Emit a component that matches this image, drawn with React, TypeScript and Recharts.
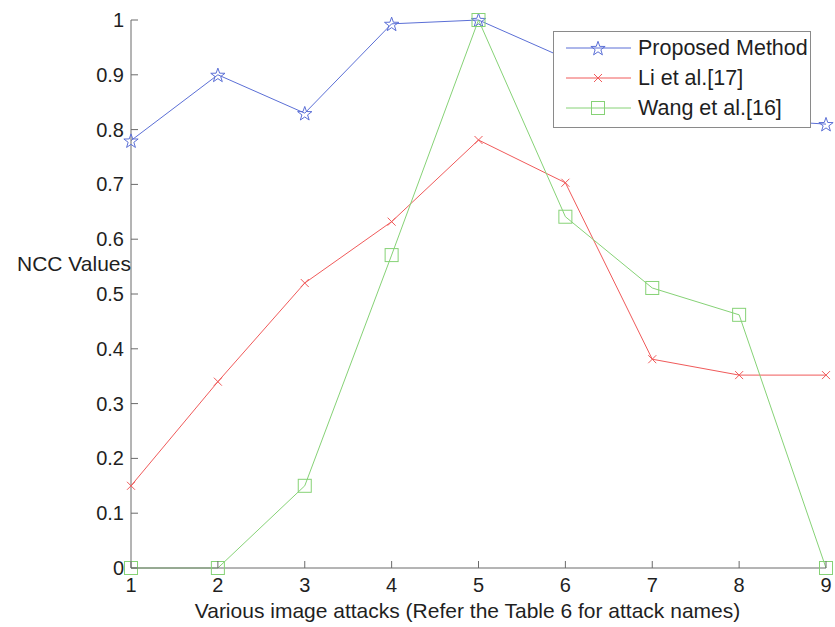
import React from "react"
import { LineChart, Line, XAxis, YAxis, Legend } from "recharts"

// attack index on the x axis
const attacks = [1, 2, 3, 4, 5, 6, 7, 8, 9]
const proposed = [0.78, 0.9, 0.83, 0.993, 1.0, 0.93, 0.87, 0.82, 0.81]
const liEtAl = [0.15, 0.34, 0.52, 0.632, 0.781, 0.703, 0.381, 0.352, 0.352]
const wangEtAl = [0, 0, 0.15, 0.571, 1.0, 0.641, 0.511, 0.462, 0]
const yTicks = [0, 0.1, 0.2, 0.3, 0.4, 0.5, 0.6, 0.7, 0.8, 0.9, 1]

const data = attacks.map((a, i) => ({
  attack: a,
  proposed: proposed[i],
  li: liEtAl[i],
  wang: wangEtAl[i],
}))

const FONT = "'Liberation Sans', Arial, sans-serif"
const AXIS = "#6b6b6b"
const TEXT = "#1f1f1f"
const BLUE = "#5b6fd6"
const RED = "#f05a5a"
const GREEN = "#86d276"

function starPath(cx: number, cy: number, R = 7.5, r = 3) {
  const pts: string[] = []
  for (let k = 0; k < 10; k++) {
    const rad = k % 2 === 0 ? R : r
    const ang = -Math.PI / 2 + (k * Math.PI) / 5
    pts.push(`${cx + rad * Math.cos(ang)},${cy + rad * Math.sin(ang) + 0.8}`)
  }
  return "M" + pts.join("L") + "Z"
}

const StarMark = ({ cx, cy }: { cx: number; cy: number }) => (
  <path d={starPath(cx, cy)} fill="none" stroke={BLUE} strokeWidth={1} />
)
const CrossMark = ({ cx, cy }: { cx: number; cy: number }) => (
  <g stroke={RED} strokeWidth={1}>
    <line x1={cx - 4} y1={cy - 4} x2={cx + 4} y2={cy + 4} />
    <line x1={cx - 4} y1={cy + 4} x2={cx + 4} y2={cy - 4} />
  </g>
)
const SquareMark = ({ cx, cy }: { cx: number; cy: number }) => (
  <rect x={cx - 6.5} y={cy - 6.5} width={13} height={13} fill="none" stroke={GREEN} strokeWidth={1} />
)

const fmtY = (v: number) => (v === 0 ? "0" : v === 1 ? "1" : v.toFixed(1))

const BottomTick = (p: any) => (
  <g>
    <line x1={p.x} y1={p.y} x2={p.x} y2={p.y - 7} stroke={AXIS} />
    <text x={p.x} y={p.y + 24} textAnchor="middle" fontSize={20} fontFamily={FONT} fill={TEXT}>
      {p.payload.value}
    </text>
  </g>
)
const TopTick = (p: any) => <line x1={p.x} y1={p.y} x2={p.x} y2={p.y + 7} stroke={AXIS} />
const LeftTick = (p: any) => (
  <g>
    <line x1={p.x} y1={p.y} x2={p.x + 7} y2={p.y} stroke={AXIS} />
    <text x={p.x - 7} y={p.y + 7} textAnchor="end" fontSize={20} fontFamily={FONT} fill={TEXT}>
      {fmtY(p.payload.value)}
    </text>
  </g>
)
const RightTick = (p: any) => <line x1={p.x} y1={p.y} x2={p.x - 7} y2={p.y} stroke={AXIS} />

const XLabel = (p: any) => {
  const vb = p.viewBox
  return (
    <text x={vb.x + vb.width / 2 - 11} y={vb.y + 50} textAnchor="middle" fontSize={21} fontFamily={FONT} fill={TEXT}>
      Various image attacks (Refer the Table 6 for attack names)
    </text>
  )
}
const YLabel = (p: any) => {
  const vb = p.viewBox
  return (
    <text x={vb.x + vb.width} y={vb.y + vb.height / 2 - 23} textAnchor="end" fontSize={21} fontFamily={FONT} fill={TEXT}>
      NCC Values
    </text>
  )
}

const legendRows = [
  { name: "Proposed Method", color: BLUE, Mark: StarMark },
  { name: "Li et al.[17]", color: RED, Mark: CrossMark },
  { name: "Wang et al.[16]", color: GREEN, Mark: SquareMark },
]

const LegendBox = () => (
  <svg width={258} height={97} style={{ display: "block" }}>
    <rect x={0.5} y={0.5} width={257} height={96} fill="#fff" stroke="#8a8a8a" />
    {legendRows.map((r, i) => {
      const y = 17 + i * 30
      return (
        <g key={r.name}>
          <line x1={13} y1={y} x2={78} y2={y} stroke={r.color} />
          <r.Mark cx={45} cy={y} />
          <text x={85} y={y + 7} fontSize={21.5} fontFamily={FONT} fill={TEXT}>
            {r.name}
          </text>
        </g>
      )
    })}
  </svg>
)

export default function App() {
  return (
    <div style={{ position: "absolute", left: 0, top: 0, width: 835, height: 627, background: "#fff" }}>
      <LineChart width={835} height={627} data={data} margin={{ top: 20, right: 9, bottom: 29, left: 71 }}>
        <XAxis
          dataKey="attack"
          type="number"
          domain={[1, 9]}
          ticks={attacks}
          tickSize={0}
          tickMargin={0}
          tick={BottomTick}
          height={30}
          stroke={AXIS}
          label={{ content: XLabel }}
        />
        <XAxis
          xAxisId="top"
          orientation="top"
          dataKey="attack"
          type="number"
          domain={[1, 9]}
          ticks={attacks}
          tickSize={0}
          tickMargin={0}
          tick={TopTick}
          height={0}
          stroke={AXIS}
        />
        <YAxis
          type="number"
          domain={[0, 1]}
          ticks={yTicks}
          tickSize={0}
          tickMargin={0}
          tick={LeftTick}
          width={60}
          stroke={AXIS}
          label={{ content: YLabel }}
        />
        <YAxis
          yAxisId="right"
          orientation="right"
          type="number"
          domain={[0, 1]}
          ticks={yTicks}
          tickSize={0}
          tickMargin={0}
          tick={RightTick}
          width={0}
          stroke={AXIS}
        />
        <Line
          dataKey="proposed"
          stroke={BLUE}
          strokeWidth={1}
          isAnimationActive={false}
          dot={(p: any) => <StarMark key={`s${p.index}`} cx={p.cx} cy={p.cy} />}
        />
        <Line
          dataKey="li"
          stroke={RED}
          strokeWidth={1}
          isAnimationActive={false}
          dot={(p: any) => <CrossMark key={`c${p.index}`} cx={p.cx} cy={p.cy} />}
        />
        <Line
          dataKey="wang"
          stroke={GREEN}
          strokeWidth={1}
          isAnimationActive={false}
          dot={(p: any) => <SquareMark key={`q${p.index}`} cx={p.cx} cy={p.cy} />}
        />
        <Legend
          layout="vertical"
          align="center"
          verticalAlign="middle"
          content={LegendBox}
          wrapperStyle={{ position: "absolute", left: 553, top: 31, width: 258, height: 97 }}
        />
      </LineChart>
    </div>
  )
}
